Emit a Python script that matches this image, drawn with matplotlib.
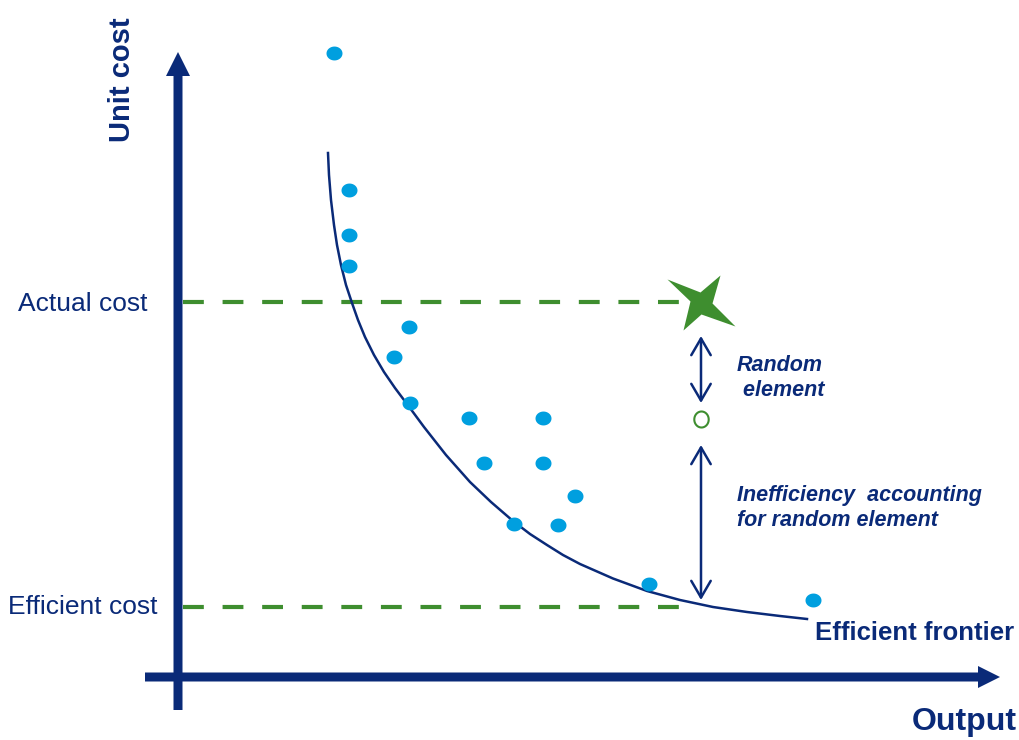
import numpy as np
import matplotlib.pyplot as plt
from matplotlib.path import Path

NAVY = '#0A2A78'
DOT = '#009FDF'
GREEN = '#3E8E2F'

# observed firms (output, unit cost)
firm_output = [15.6, 17.1, 17.1, 17.1, 23.1, 21.6, 23.2, 29.1, 36.5, 30.6,
               36.5, 39.7, 33.6, 38.0, 47.1, 63.5]
firm_cost = [62.4, 48.7, 44.2, 41.1, 35.0, 32.0, 27.4, 25.9, 25.9, 21.4,
             21.4, 18.1, 15.3, 15.2, 9.3, 7.7]

# efficient frontier
frontier_output = [15.0, 15.1, 15.3, 15.6, 15.9, 16.3, 16.8, 17.4, 18.0, 18.7,
                   19.6, 20.6, 21.7, 22.9, 24.6, 26.8, 29.2, 31.3, 33.5, 35.2,
                   36.9, 38.5, 40.2, 43.5, 46.9, 50.2, 53.5, 56.9, 60.2, 62.9]
frontier_cost = [52.4, 50.2, 47.7, 45.2, 43.2, 41.2, 39.2, 37.4, 35.7, 34.0,
                 32.2, 30.5, 28.9, 27.3, 25.0, 22.2, 19.5, 17.5, 15.6, 14.3,
                 13.2, 12.2, 11.3, 9.85, 8.6, 7.7, 7.0, 6.5, 6.1, 5.8]

# the firm being assessed
firm_x = 52.2
actual_cost = 37.5
random_adj_cost = 25.8
efficient_cost = 7.0

fig = plt.figure(figsize=(10.19, 7.40), dpi=100)
ax = fig.add_axes([0, 0, 1, 1])
ax.set_xlim(-17.8, 84.1)
ax.set_ylim(-6.3, 67.7)
ax.axis('off')

# axes arrows
ax.arrow(0, -3.3, 0, 65.8, width=0.9, head_width=2.4, head_length=2.4,
         length_includes_head=True, color=NAVY, lw=0)
ax.arrow(-3.3, 0, 85.5, 0, width=0.9, head_width=2.2, head_length=2.2,
         length_includes_head=True, color=NAVY, lw=0)

# cost reference lines
ax.plot([0.5, firm_x - 1], [actual_cost, actual_cost], color=GREEN, lw=3,
        dashes=(5, 4.5))
ax.plot([0.5, 50.8], [efficient_cost, efficient_cost], color=GREEN, lw=3,
        dashes=(5, 4.5))

# frontier
ax.plot(frontier_output, frontier_cost, color=NAVY, lw=1.8,
        solid_joinstyle='round')

# slightly wide ellipse marker for the firms
t = np.linspace(0, 2 * np.pi, 60)
ellipse = Path(np.column_stack([1.15 * np.cos(t), np.sin(t)]), closed=True)
ax.scatter(firm_output, firm_cost, marker=ellipse, s=(16 * 0.72) ** 2,
           color=DOT, lw=0, zorder=3)

# four pointed star for the actual cost
star = Path([(-33, 23), (0, 10), (20, 27), (12, -1), (35, -24), (1, -12),
             (-17, -28), (-10, 1), (-33, 23)], closed=True)
ax.scatter([firm_x], [actual_cost], marker=star, s=(70 * 0.72) ** 2,
           color=GREEN, lw=0, zorder=4)

tall = Path(np.column_stack([0.9 * np.cos(t), np.sin(t)]), closed=True)
ax.scatter([firm_x + 0.1], [random_adj_cost], marker=tall, s=(16 * 0.72) ** 2,
           facecolor='white', edgecolor=GREEN, lw=1.5, zorder=4)

arrow_style = dict(arrowstyle='<->,head_length=0.6,head_width=0.35',
                   mutation_scale=20, color=NAVY, lw=1.8, shrinkA=0, shrinkB=0)
ax.annotate('', xy=(firm_x + 0.1, actual_cost - 3.4),
            xytext=(firm_x + 0.1, random_adj_cost + 1.6), arrowprops=arrow_style)
ax.annotate('', xy=(firm_x + 0.1, random_adj_cost - 2.6),
            xytext=(firm_x + 0.1, efficient_cost + 0.7), arrowprops=arrow_style)

# labels
ax.text(-16.0, actual_cost - 0.2, 'Actual cost', fontsize=19, color=NAVY,
        family='Liberation Sans', va='center', ha='left')
ax.text(-17.0, efficient_cost, 'Efficient cost', fontsize=19, color=NAVY,
        family='Liberation Sans', va='center', ha='left')
ax.text(-5.6, 59.7, 'Unit cost', fontsize=21, color=NAVY, weight='bold',
        family='Liberation Sans', rotation=90, va='center', ha='center')
ax.text(83.9, -4.5, 'Output', fontsize=23, color=NAVY, weight='bold',
        family='Liberation Sans', va='center', ha='right')
ax.text(63.7, 4.4, 'Efficient frontier', fontsize=18.5, color=NAVY,
        weight='bold', family='Liberation Sans', va='center', ha='left')
ax.text(55.9, 29.9, 'Random\n element', fontsize=15.5, color=NAVY,
        weight='bold', style='italic', family='Liberation Sans',
        va='center', ha='left', linespacing=1.25)
ax.text(55.9, 16.9, 'Inefficiency  accounting\nfor random element',
        fontsize=15.5, color=NAVY, weight='bold', style='italic',
        family='Liberation Sans', va='center', ha='left', linespacing=1.2)

fig.savefig('out.png', dpi=100)
